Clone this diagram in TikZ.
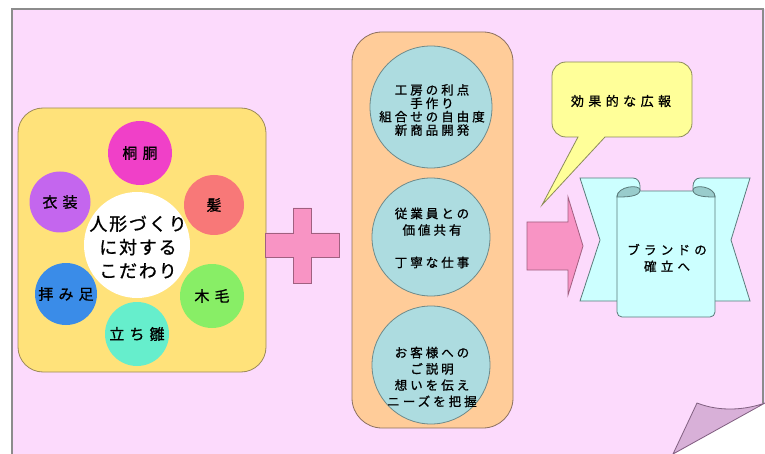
\documentclass[tikz,border=0pt]{standalone}
\usepackage{fontspec}
\newfontfamily\jpa[LetterSpace=24,FakeBold=1]{Noto Sans CJK JP}
\newfontfamily\jpb[LetterSpace=34,FakeBold=1]{Noto Sans CJK JP}
\newfontfamily\jpc[LetterSpace=10,FakeBold=1]{Noto Sans CJK JP}
\definecolor{pagepink}{HTML}{FCDAFC}
\definecolor{pageline}{HTML}{8C8C8C}
\definecolor{ybox}{HTML}{FFE27A}
\definecolor{yline}{HTML}{9C8A5A}
\definecolor{obox}{HTML}{FFCC99}
\definecolor{oline}{HTML}{8C7060}
\definecolor{bcirc}{HTML}{ADDCE0}
\definecolor{bline}{HTML}{6E8A8A}
\definecolor{plusc}{HTML}{F894C4}
\definecolor{plusl}{HTML}{A06080}
\definecolor{bubblec}{HTML}{FFFF99}
\definecolor{bubblel}{HTML}{8C8C5A}
\definecolor{bannerc}{HTML}{CCFFFF}
\definecolor{rollc}{HTML}{99CCCC}
\definecolor{bannerl}{HTML}{5A7A7A}
\definecolor{foldc}{HTML}{D8B0D8}
\definecolor{foldl}{HTML}{806080}
\definecolor{cKiri}{HTML}{F040C8}
\definecolor{cKami}{HTML}{F87878}
\definecolor{cIsho}{HTML}{C466EE}
\definecolor{cAshi}{HTML}{3A8CE8}
\definecolor{cMoku}{HTML}{88EE66}
\definecolor{cHina}{HTML}{66EECC}
\begin{document}
\begin{tikzpicture}[x=1pt,y=-1pt,
  part/.style={circle, inner sep=0pt, minimum size=#1, font=\jpb\fontsize{15}{17}\selectfont},
  bluec/.style={circle, draw=bline, line width=0.8pt, fill=bcirc, inner sep=0pt, minimum size=#1},
  btext/.style={align=center, font=\jpa\fontsize{12.5}{#1}\selectfont},
  roundbox/.style={draw, line width=0.8pt, inner sep=0pt}
]
\useasboundingbox (0,0) rectangle (765,454);
\fill[white] (0,0) rectangle (765,454);
% page
\fill[pagepink] (12,9) rectangle (765,454);
\fill[white] (765,403) -- (765,455) -- (673,455) -- cycle;
\draw[pageline, line width=1.2pt] (12,454) -- (12,9) -- (763,9) -- (763,403);
\draw[foldl, line width=0.8pt, fill=foldc] (697,403) .. controls (720,412) and (745,410) .. (765,403) -- (673,454) -- cycle;

% left box
\node[roundbox, draw=yline, fill=ybox, rounded corners=25pt, minimum width=248pt, minimum height=264pt] (kbox) at (142,240) {};
\node[part=64pt, fill=cKiri] (kiri) at (140,153) {桐胴};
\node[part=60pt, fill=cKami] (kami) at (214,205) {髪};
\node[part=61pt, fill=cIsho] (isho) at (60,202) {衣装};
\node[part=62pt, fill=cAshi] (ashi) at (66,294) {拝み足};
\node[part=64pt, fill=cMoku] (moku) at (212,296) {木毛};
\node[part=64pt, fill=cHina] (hina) at (137,334) {立ち雛};
\node[circle, fill=white, inner sep=0pt, minimum size=106pt] (core) at (137,245) {};
\node[align=center, font=\jpc\fontsize{18}{23.5}\selectfont] (coret) at (138,247) {人形づくり\\に対する\\こだわり};

% plus
\draw[plusl, line width=0.8pt, fill=plusc] (293,208) -- (311,208) -- (311,233) -- (339,233) -- (339,257) -- (311,257) -- (311,283) -- (293,283) -- (293,257) -- (265,257) -- (265,233) -- (293,233) -- cycle;

% middle box
\node[roundbox, draw=oline, fill=obox, rounded corners=30pt, minimum width=161pt, minimum height=396pt] (mbox) at (432.5,230) {};
\node[bluec=122pt] (c1) at (431,107) {};
\node[btext=13.4] (t1) at (432,110) {工房の利点\\手作り\\組合せの自由度\\新商品開発};
\node[bluec=118pt] (c2) at (431,237) {};
\node[btext=16.5] (t2) at (432,238) {従業員との\\価値共有\\[16pt]丁寧な仕事};
\node[bluec=118pt] (c3) at (431,365) {};
\node[btext=16.3] (t3) at (432,377) {お客様への\\ご説明\\想いを伝え\\ニーズを把握};

% arrow
\draw[plusl, line width=0.8pt, fill=plusc] (527,222) -- (568,222) -- (568,197) -- (583,246) -- (568,295) -- (568,270) -- (527,270) -- cycle;

% bubble
\draw[bubblel, line width=0.8pt, fill=bubblec] (578,137) [rounded corners=14pt] -- (552,137) -- (552,62) -- (692,62) -- (692,137) [sharp corners] -- (605,137) -- (542,205) -- cycle;
\node[font=\jpb\fontsize{13}{15}\selectfont] (koho) at (621,101) {効果的な広報};

% banner
\draw[bannerl, line width=0.8pt, fill=bannerc] (620,301) -- (580,301) -- (600,240) -- (580,178) -- (633,178) to[out=0,in=90] (640,186) -- (640,200);
\draw[bannerl, line width=0.8pt, fill=bannerc] (700,301) -- (750,301) -- (731,240) -- (750,178) -- (700,178) to[out=180,in=90] (693,186) -- (693,200);
\node[roundbox, draw=bannerl, fill=bannerc, rounded corners=5pt, minimum width=98pt, minimum height=126pt] (brand) at (666,254) {};
\draw[bannerl, line width=0.8pt, fill=rollc] (617,197) .. controls (617,186) and (640,184) .. (640,190) .. controls (640,197) and (625,197) .. (617,197) -- cycle;
\draw[bannerl, line width=0.8pt, fill=rollc] (715,197) .. controls (715,186) and (693,184) .. (693,190) .. controls (693,197) and (708,197) .. (715,197) -- cycle;
\node[align=center, font=\jpb\fontsize{12.5}{16.5}\selectfont] (brandt) at (667,258) {ブランドの\\確立へ};
\end{tikzpicture}
\end{document}
